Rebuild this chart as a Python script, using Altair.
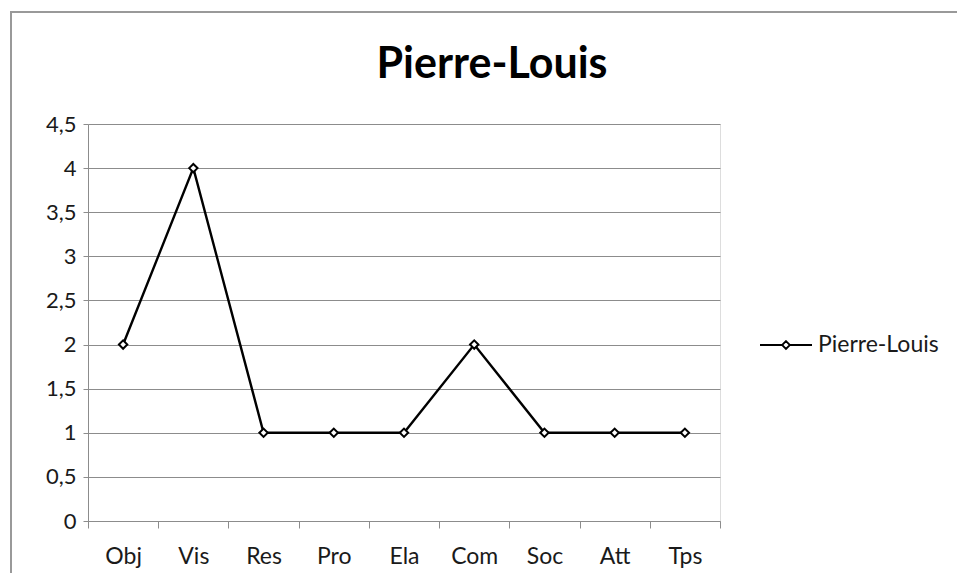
import altair as alt
import pandas as pd

categories = ["Obj", "Vis", "Res", "Pro", "Ela", "Com", "Soc", "Att", "Tps"]
values = [2, 4, 1, 1, 1, 2, 1, 1, 1]
series_name = "Pierre-Louis"
title_text = "Pierre-Louis"
y_ticks = [0, 0.5, 1, 1.5, 2, 2.5, 3, 3.5, 4, 4.5]

df = pd.DataFrame({"cat": categories, "val": values, "series": [series_name] * len(values)})
title_df = pd.DataFrame({"t": [title_text]})

FONT = "Lato"
GRID = "#8c8c8c"
TXT = "#1a1a1a"

x_enc = alt.X("cat:N", sort=categories, title=None,
              scale=alt.Scale(paddingInner=0, paddingOuter=0),
              axis=alt.Axis(labelAngle=0, tickBand="extent", tickSize=7, domainColor=GRID,
                            tickColor=GRID, labelFont=FONT, labelFontSize=23, labelColor=TXT,
                            labelPadding=17, grid=False))
y_enc = alt.Y("val:Q", title=None,
              scale=alt.Scale(domain=[0, 4.5], nice=False),
              axis=alt.Axis(values=y_ticks, labelExpr="replace(format(datum.value, '~g'), '.', ',')",
                            tickSize=5, domainColor=GRID, tickColor=GRID, gridColor=GRID,
                            labelFont=FONT, labelFontSize=22, labelColor=TXT, labelPadding=7))

diamond_path = "M-1,0L-0.15,0M0.15,0L1,0M0,-0.15L0.15,0L0,0.15L-0.15,0Z"

line = alt.Chart(df).mark_line(strokeWidth=2.4).encode(
    x=x_enc, y=y_enc,
    color=alt.Color("series:N", scale=alt.Scale(domain=[series_name], range=["black"]),
                    legend=alt.Legend(title=None, orient="none", legendX=671, legendY=194,
                                      symbolType=diamond_path, symbolSize=2704,
                                      symbolStrokeWidth=1.8, symbolFillColor="white",
                                      symbolStrokeColor="black",
                                      labelFont=FONT, labelFontSize=23, labelColor=TXT,
                                      labelOffset=5)),
)

points = alt.Chart(df).mark_point(shape="diamond", filled=True, fill="white", stroke="black",
                                  strokeWidth=2, size=70, opacity=1).encode(
    x=alt.X("cat:N", sort=categories), y=alt.Y("val:Q"),
)

border_top = alt.Chart(title_df).mark_rule(stroke="#999999", strokeWidth=2, clip=False).encode(
    x=alt.value(-78), x2=alt.value(870), y=alt.value(-112)
)
border_left = alt.Chart(title_df).mark_rule(stroke="#999999", strokeWidth=2, clip=False).encode(
    x=alt.value(-77), y=alt.value(-113), y2=alt.value(455)
)

title = alt.Chart(title_df).mark_text(font=FONT, fontSize=43, fontWeight="bold", color="black",
                                      align="center", baseline="alphabetic").encode(
    text="t:N", x=alt.value(404), y=alt.value(-46)
)

chart = alt.layer(border_top, border_left, line, points, title).properties(
    width=632, height=397,
    autosize=alt.AutoSizeParams(type="none"),
    padding={"left": 80, "top": 116, "right": 237, "bottom": 52},
).configure_view(stroke=None).configure(background="white")

chart.save("out.html", embed_options={"renderer": "svg", "actions": False})
